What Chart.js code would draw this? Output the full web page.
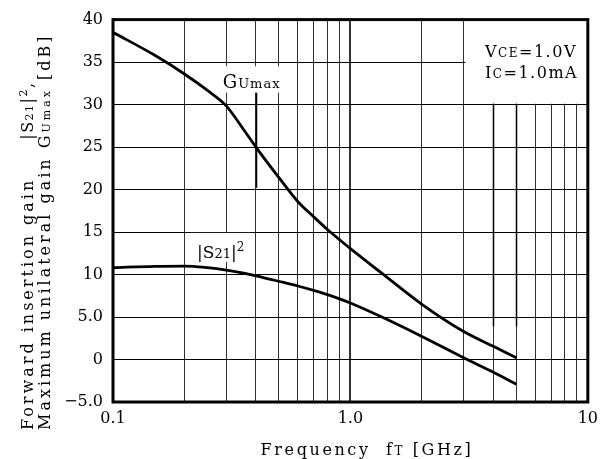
<!DOCTYPE html>
<html>
<head>
<meta charset="utf-8">
<script src="https://cdn.jsdelivr.net/npm/chart.js@4"></script>
<style>
  html, body { margin: 0; padding: 0; background: #fff; }
  canvas { display: block; }
</style>
</head>
<body>
<canvas id="gain-chart" width="605" height="459"></canvas>
<script>
// ── Data ─────────────────────────────────────────
const freq  = [0.1, 0.15, 0.2, 0.25, 0.3, 0.35, 0.4, 0.5, 0.6, 0.7, 0.8, 0.9, 1.0, 1.35, 2.0, 3.0, 4.0, 5.0];
const gUmax = [38.5, 35.8, 33.6, 31.66, 29.85, 27.3, 25.0, 21.4, 18.6, 16.8, 15.3, 14.1, 13.05, 10.2, 6.5, 3.3, 1.55, 0.2];
const s21sq = [10.8, 10.97, 11.0, 10.81, 10.53, 10.2, 9.85, 9.2, 8.65, 8.13, 7.63, 7.14, 6.65, 5.02, 2.71, 0.2, -1.5, -2.9];

const xGrid       = [0.1, 0.2, 0.3, 0.4, 0.5, 0.6, 0.7, 0.8, 0.9, 1, 2, 3, 4, 5, 6, 7, 8, 9, 10];
const xTickLabels = ['0.1', '', '', '', '', '', '', '', '', '1.0', '', '', '', '', '', '', '', '', '10'];
const yTickLabels = ['\u22125.0', '0', '5.0', '10', '15', '20', '25', '30', '35', '40'];

// white label backgrounds [x1, x2, y1, y2] in data units
const labelBoxes = [[3.05, 10, 30.1, 40], [0.287, 0.55, 31.4, 34.5], [0.211, 0.383, 11.5, 14.9]];
// leader lines [x, yFrom, yTo]
const leaders = [[0.4, 20.2, 31.4], [4, 3.9, 30.1], [5, 3.9, 30.1]];

const FONT = '"DejaVu Serif", serif';

// ── Teks campuran ukuran (subscript / small caps) ──
function drawRich(ctx, parts, x, y, spacing) {
    let cx = x;
    parts.forEach(([t, size, dy]) => {
        ctx.font = `${size}px ${FONT}`;
        ctx.letterSpacing = spacing || '0px';
        ctx.fillText(t, cx, y + (dy || 0));
        cx += ctx.measureText(t).width;
    });
    return cx - x;
}
function richWidth(ctx, parts, spacing) {
    let w = 0;
    parts.forEach(([t, size]) => {
        ctx.font = `${size}px ${FONT}`;
        ctx.letterSpacing = spacing || '0px';
        w += ctx.measureText(t).width;
    });
    return w;
}

const annotate = {
    id: 'annotate',
    beforeDatasetsDraw(chart) {
        const { ctx, scales: { x, y } } = chart;
        ctx.save();
        ctx.fillStyle = '#fff';
        labelBoxes.forEach(([x1, x2, y1, y2]) => {
            const px1 = x.getPixelForValue(x1), px2 = x.getPixelForValue(x2);
            const py1 = y.getPixelForValue(y2), py2 = y.getPixelForValue(y1);
            ctx.fillRect(px1, py1, px2 - px1, py2 - py1);
        });
        ctx.strokeStyle = '#000';
        ctx.lineWidth = 1.5;
        leaders.forEach(([lx, y1, y2]) => {
            const px = Math.round(x.getPixelForValue(lx)) + 0.5;
            ctx.beginPath();
            ctx.moveTo(px, y.getPixelForValue(y1));
            ctx.lineTo(px, y.getPixelForValue(y2));
            ctx.stroke();
        });

        ctx.fillStyle = '#000';
        ctx.textBaseline = 'alphabetic';
        ctx.textAlign = 'left';
        // kondisi bias
        drawRich(ctx, [['V', 16], ['CE', 12], ['=1.0V', 16]], x.getPixelForValue(3.69), y.getPixelForValue(35.6), '1.5px');
        drawRich(ctx, [['I', 16], ['C', 12], ['=1.0mA', 16]], x.getPixelForValue(3.69), y.getPixelForValue(33.1), '1.5px');
        // label kurva
        drawRich(ctx, [['G', 18], ['Umax', 13]], x.getPixelForValue(0.29), y.getPixelForValue(32.0), '1px');
        drawRich(ctx, [['|S', 17], ['21', 13], ['|', 17], ['2', 12, -7]], x.getPixelForValue(0.226), y.getPixelForValue(11.9));
        ctx.restore();
    },
    afterDraw(chart) {
        const { ctx, chartArea: a } = chart;
        ctx.save();
        ctx.strokeStyle = '#000';
        ctx.lineWidth = 3;
        ctx.strokeRect(a.left, a.top, a.right - a.left, a.bottom - a.top);

        ctx.fillStyle = '#000';
        ctx.textAlign = 'left';
        ctx.textBaseline = 'alphabetic';

        // judul sumbu x
        const xt = [['Frequency  f', 16], ['T', 12], [' [GHz]', 16]];
        const w = richWidth(ctx, xt, '2.6px');
        drawRich(ctx, xt, 367 - w / 2, 455, '2.6px');

        // judul sumbu y (dua baris, diputar)
        ctx.translate(33, 430);
        ctx.rotate(-Math.PI / 2);
        const l1 = drawRich(ctx, [['Forward insertion gain', 16]], 0, 0, '3px');
        drawRich(ctx, [['|S', 16], ['21', 11], ['|', 16], ['2', 11, -6], [',', 16]], l1 + 38, 0, '1.5px');
        drawRich(ctx, [['Maximum unilateral gain G', 16], ['Umax', 11], [' [dB]', 16]], 0, 16.5, '3px');
        ctx.restore();
    }
};

new Chart(document.getElementById('gain-chart'), {
    type: 'line',
    data: {
        labels: freq,
        datasets: [
            { label: 'GUmax', data: freq.map((f, i) => ({ x: f, y: gUmax[i] })), cubicInterpolationMode: 'monotone' },
            { label: '|S21|2', data: freq.map((f, i) => ({ x: f, y: s21sq[i] })), cubicInterpolationMode: 'monotone' }
        ]
    },
    options: {
        responsive: false,
        animation: false,
        devicePixelRatio: 1,
        layout: { padding: { top: 19, right: 11, left: 0, bottom: 0 } },
        elements: {
            line: { borderColor: '#000', borderWidth: 2.8, fill: false },
            point: { radius: 0 }
        },
        plugins: { legend: { display: false }, tooltip: { enabled: false } },
        scales: {
            x: {
                type: 'logarithmic',
                min: 0.1,
                max: 10,
                afterBuildTicks: (s) => { s.ticks = xGrid.map(v => ({ value: v })); },
                afterFit: (s) => { s.height = 57; },
                border: { display: false },
                grid: {
                    color: '#333',
                    lineWidth: (c) => (c.tick && c.tick.value === 1 ? 2 : 1),
                    drawTicks: false
                },
                ticks: {
                    autoSkip: false,
                    maxRotation: 0,
                    align: 'center',
                    padding: 7,
                    color: '#000',
                    font: { family: FONT, size: 16 },
                    callback: (v, i) => xTickLabels[i]
                }
            },
            y: {
                min: -5,
                max: 40,
                afterFit: (s) => { s.width = 113; },
                border: { display: false },
                grid: { color: '#000', lineWidth: 1, drawTicks: false },
                ticks: {
                    stepSize: 5,
                    padding: 10,
                    color: '#000',
                    font: { family: FONT, size: 16 },
                    callback: (v, i) => yTickLabels[i]
                }
            }
        }
    },
    plugins: [annotate]
});
</script>
</body>
</html>
